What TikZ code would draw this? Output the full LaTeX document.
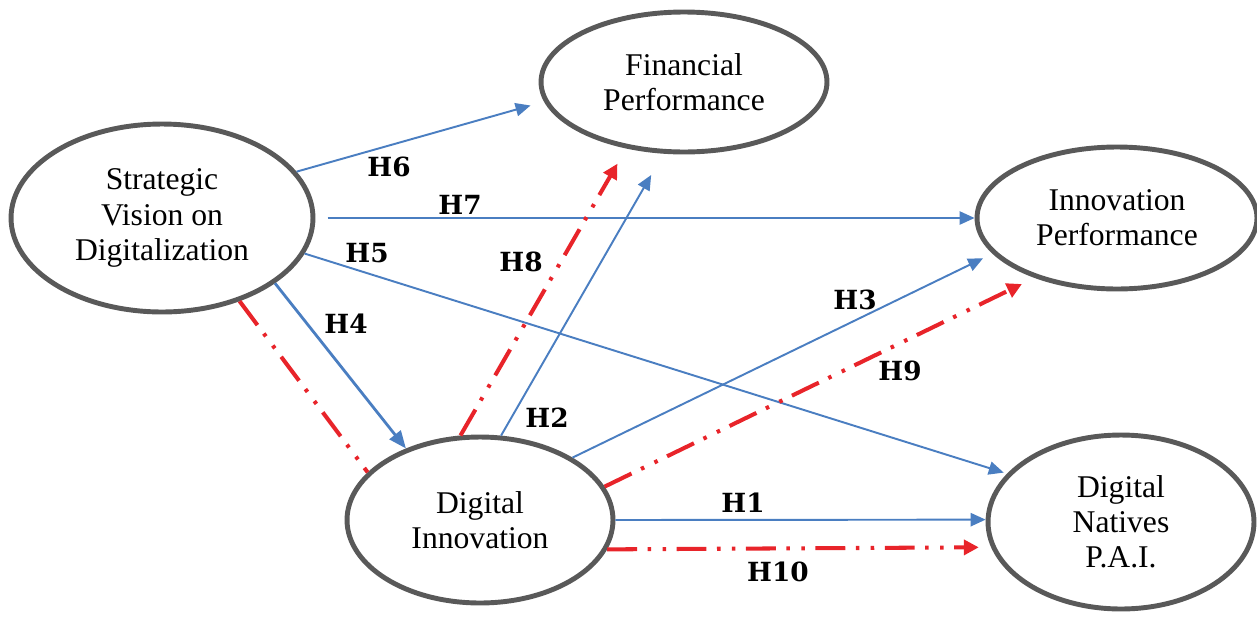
\documentclass[tikz,border=0pt]{standalone}
\usepackage{fontspec}
\setmainfont{Liberation Serif}
\newfontfamily\labfont{DejaVu Serif}
\usetikzlibrary{arrows.meta,shapes.geometric}
\definecolor{hypblue}{RGB}{74,126,193}
\definecolor{modred}{RGB}{232,36,42}
\definecolor{rimgray}{RGB}{89,89,89}

\begin{document}
\begin{tikzpicture}[x=0.02cm,y=-0.02cm,
    construct/.style={draw=rimgray,line width=2.8pt,ellipse,align=center,inner sep=0pt,font=\fontsize{18}{20}\selectfont},
    hyp/.style={draw=hypblue,line width=1.1pt,-{Triangle[length=8.5pt,width=7.5pt]}},
    mod/.style={draw=modred,line width=2.3pt,dash pattern=on 17pt off 6pt on 2pt off 6.5pt on 2pt off 6pt},
    hlab/.style={inner sep=0pt,font=\labfont\bfseries\fontsize{15}{15}\selectfont}]
    \useasboundingbox (0,0) rectangle (1257,616);
    % constructs
    \node[construct,minimum width=6.04cm,minimum height=3.76cm] (sv) at (162,218) {Strategic\\Vision on\\Digitalization};
    \node[construct,minimum width=5.72cm,minimum height=2.8cm] (fp) at (684,82) {Financial\\Performance};
    \node[construct,minimum width=5.6cm,minimum height=2.84cm] (ip) at (1117,218) {Innovation\\Performance};
    \node[construct,minimum width=5.32cm,minimum height=3.32cm] (di) at (480,520) {Digital\\Innovation};
    \node[construct,minimum width=5.32cm,minimum height=3.48cm] (dn) at (1121,522) {Digital\\Natives\\P.A.I.};
    % direct effects
    \foreach \a/\b/\s in {sv.19/fp.188/8, sv.-14/dn.157/2, di.76/fp.254/14, di.34/ip.196/6, di.east/dn.179/0} {\draw[hyp,shorten >=\s pt] (\a) -- (\b);}
    \draw[hyp,shorten <=7pt] (sv.east) -- (ip.west);
    \draw[hyp,line width=1.6pt,-{Triangle[length=10pt,width=8pt]}] (sv.-30) -- (di.136);
    % moderated paths
    \draw[mod] (sv.-47) -- (di.157);
    \foreach \a/\b/\s in {di.103/fp.229/10, di.15/ip.216/8, di.-13/dn.191.4/7} {\draw[mod,-{Triangle[length=8.5pt,width=8.5pt]},shorten >=\s pt] (\a) -- (\b);}
    % hypothesis labels
    \foreach \n/\x/\y in {H1/743/503, H2/547/418, H3/855/300, H4/346/324, H5/367/253, H6/389/167, H7/460/205, H8/521/262, H9/900/371, H10/778/572} {\node[hlab] (lab\n) at (\x,\y) {\n};}
\end{tikzpicture}
\end{document}
